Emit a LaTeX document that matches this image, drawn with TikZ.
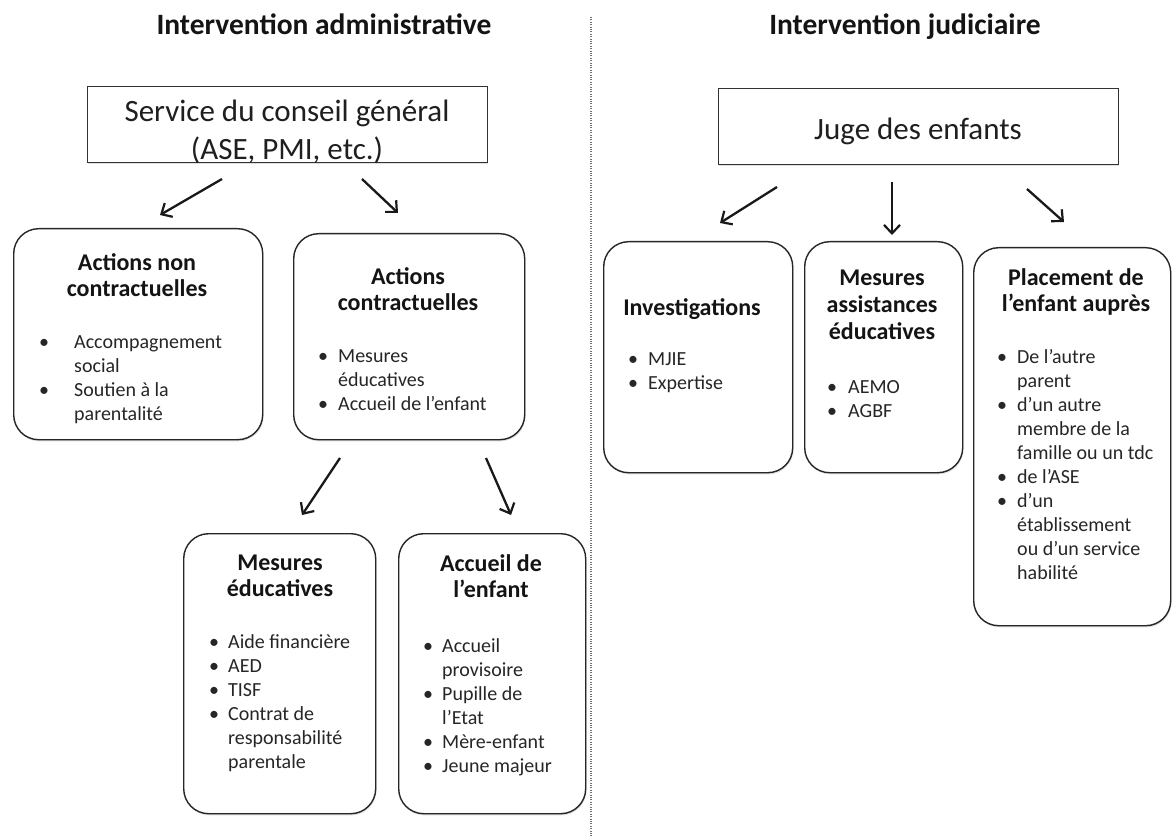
\documentclass[tikz,border=0pt]{standalone}
\usepackage{fontspec}
\setmainfont{Carlito}
\usetikzlibrary{arrows.meta,shadows}

\tikzset{
  panel/.style={draw=black!85, line width=1.4pt, rounded corners=25pt, fill=white,
    inner sep=0pt, anchor=north west,
    drop shadow={shadow xshift=0.8pt, shadow yshift=-1.6pt, opacity=0.25}},
  headbox/.style={draw=black!80, line width=1.3pt, fill=white, inner sep=0pt,
    anchor=north west,
    drop shadow={shadow xshift=0.8pt, shadow yshift=-1.6pt, opacity=0.25}},
  heading/.style={inner sep=0pt, anchor=base, text=black!92,
    font=\fontsize{29.5}{34}\selectfont\bfseries},
  boxtitle/.style={inner sep=0pt, anchor=base, text=black!92,
    font=\fontsize{24}{26.8}\selectfont\bfseries},
  bigtext/.style={inner sep=0pt, anchor=base, text=black!88,
    font=\fontsize{31}{38}\selectfont},
  listtext/.style={inner sep=0pt, anchor=base west, text=black!85,
    font=\fontsize{20}{24}\selectfont},
  arr/.style={line width=2.3pt, black!90,
    -{Straight Barb[length=8.5pt,width=16pt,line width=2.2pt]}},
  sep/.style={black!55, line width=1.3pt, dash pattern=on 1pt off 1.4pt}
}

% centred block of lines, baseline on the first line
\newcommand{\lines}[1]{\begin{tabular}[t]{@{}c@{}}#1\end{tabular}}
% bullet list: #1 = gap from bullet to text
\newcommand{\blist}[2]{\begin{tabular}[t]{@{}p{#1pt}@{}l@{}}#2\end{tabular}}

\begin{document}
\begin{tikzpicture}[x=1pt,y=-1pt]
\useasboundingbox (0,0) rectangle (1173,837);
\fill[white] (0,0) rectangle (1173,837);

% separation between the two columns
\coordinate (sepTop) at (591,17);
\coordinate (sepBot) at (591,837);
\draw[sep] (sepTop) -- (sepBot);

% column headings
\node[heading] (hAdm) at (324,35) {Intervention administrative};
\node[heading] (hJud) at (905,35) {Intervention judiciaire};

% ---------------- administrative side ----------------
\node[headbox, minimum width=400pt, minimum height=76pt] (svc) at (87,86) {};
\node[bigtext] (svcT) at (287,122) {\lines{Service du conseil général\\(ASE, PMI, etc.)}};

\node[panel, minimum width=249pt, minimum height=211pt] (anc) at (13,228) {};
\node[boxtitle] (ancT) at (137,270) {\lines{Actions non\\contractuelles}};
\node[listtext] (ancL) at (39,348) {\blist{35}{%
  \textbullet & Accompagnement\\ & social\\
  \textbullet & Soutien à la\\ & parentalité}};

\node[panel, minimum width=231pt, minimum height=206pt] (ac) at (293,233) {};
\node[boxtitle] (acT) at (408,284) {\lines{Actions\\contractuelles}};
\node[listtext] (acL) at (318,362) {\blist{20}{%
  \textbullet & Mesures\\ & éducatives\\
  \textbullet & Accueil de l’enfant}};

\node[panel, minimum width=192pt, minimum height=280pt] (me) at (183,533) {};
\node[boxtitle] (meT) at (280,570) {\lines{Mesures\\éducatives}};
\node[listtext] (meL) at (209,648) {\blist{19}{%
  \textbullet & Aide financière\\
  \textbullet & AED\\
  \textbullet & TISF\\
  \textbullet & Contrat de\\ & responsabilité\\ & parentale}};

\node[panel, minimum width=187pt, minimum height=280pt] (acc) at (398,533) {};
\node[boxtitle] (accT) at (491,571) {\lines{Accueil de\\l’enfant}};
\node[listtext] (accL) at (423,652) {\blist{19}{%
  \textbullet & Accueil\\ & provisoire\\
  \textbullet & Pupille de\\ & l’Etat\\
  \textbullet & Mère-enfant\\
  \textbullet & Jeune majeur}};

% ---------------- judicial side ----------------
\node[headbox, minimum width=400pt, minimum height=76pt] (juge) at (718,88) {};
\node[bigtext] (jugeT) at (918,140) {Juge des enfants};

\node[panel, minimum width=189pt, minimum height=231pt] (inv) at (603,241) {};
\node[boxtitle] (invT) at (692,315) {Investigations};
\node[listtext] (invL) at (628,365) {\blist{20}{%
  \textbullet & MJIE\\
  \textbullet & Expertise}};

\node[panel, minimum width=158pt, minimum height=231pt] (mae) at (804,241) {};
\node[boxtitle] (maeT) at (882,286) {\lines{Mesures\\assistances\\éducatives}};
\node[listtext] (maeL) at (827,393) {\blist{21}{%
  \textbullet & AEMO\\
  \textbullet & AGBF}};

\node[panel, minimum width=197pt, minimum height=378pt] (pl) at (973,247) {};
\node[boxtitle] (plT) at (1076,285) {\lines{Placement de\\l’enfant auprès}};
\node[listtext] (plL) at (997,363) {\blist{20}{%
  \textbullet & De l’autre\\ & parent\\
  \textbullet & d’un autre\\ & membre de la\\ & famille ou un tdc\\
  \textbullet & de l’ASE\\
  \textbullet & d’un\\ & établissement\\ & ou d’un service\\ & habilité}};

% ---------------- arrows ----------------
\coordinate (s1) at (222,179); \coordinate (e1) at (160,215);
\coordinate (s2) at (362,179); \coordinate (e2) at (398,213);
\coordinate (s3) at (340,458); \coordinate (e3) at (302,515);
\coordinate (s4) at (486,458); \coordinate (e4) at (511,515);
\coordinate (s5) at (777,187); \coordinate (e5) at (720,223);
\coordinate (s6) at (892,182); \coordinate (e6) at (892,235);
\coordinate (s7) at (1027,189); \coordinate (e7) at (1064,222);
\draw[arr] (s1) -- (e1);
\draw[arr] (s2) -- (e2);
\draw[arr] (s3) -- (e3);
\draw[arr] (s4) -- (e4);
\draw[arr] (s5) -- (e5);
\draw[arr] (s6) -- (e6);
\draw[arr] (s7) -- (e7);
\end{tikzpicture}
\end{document}
